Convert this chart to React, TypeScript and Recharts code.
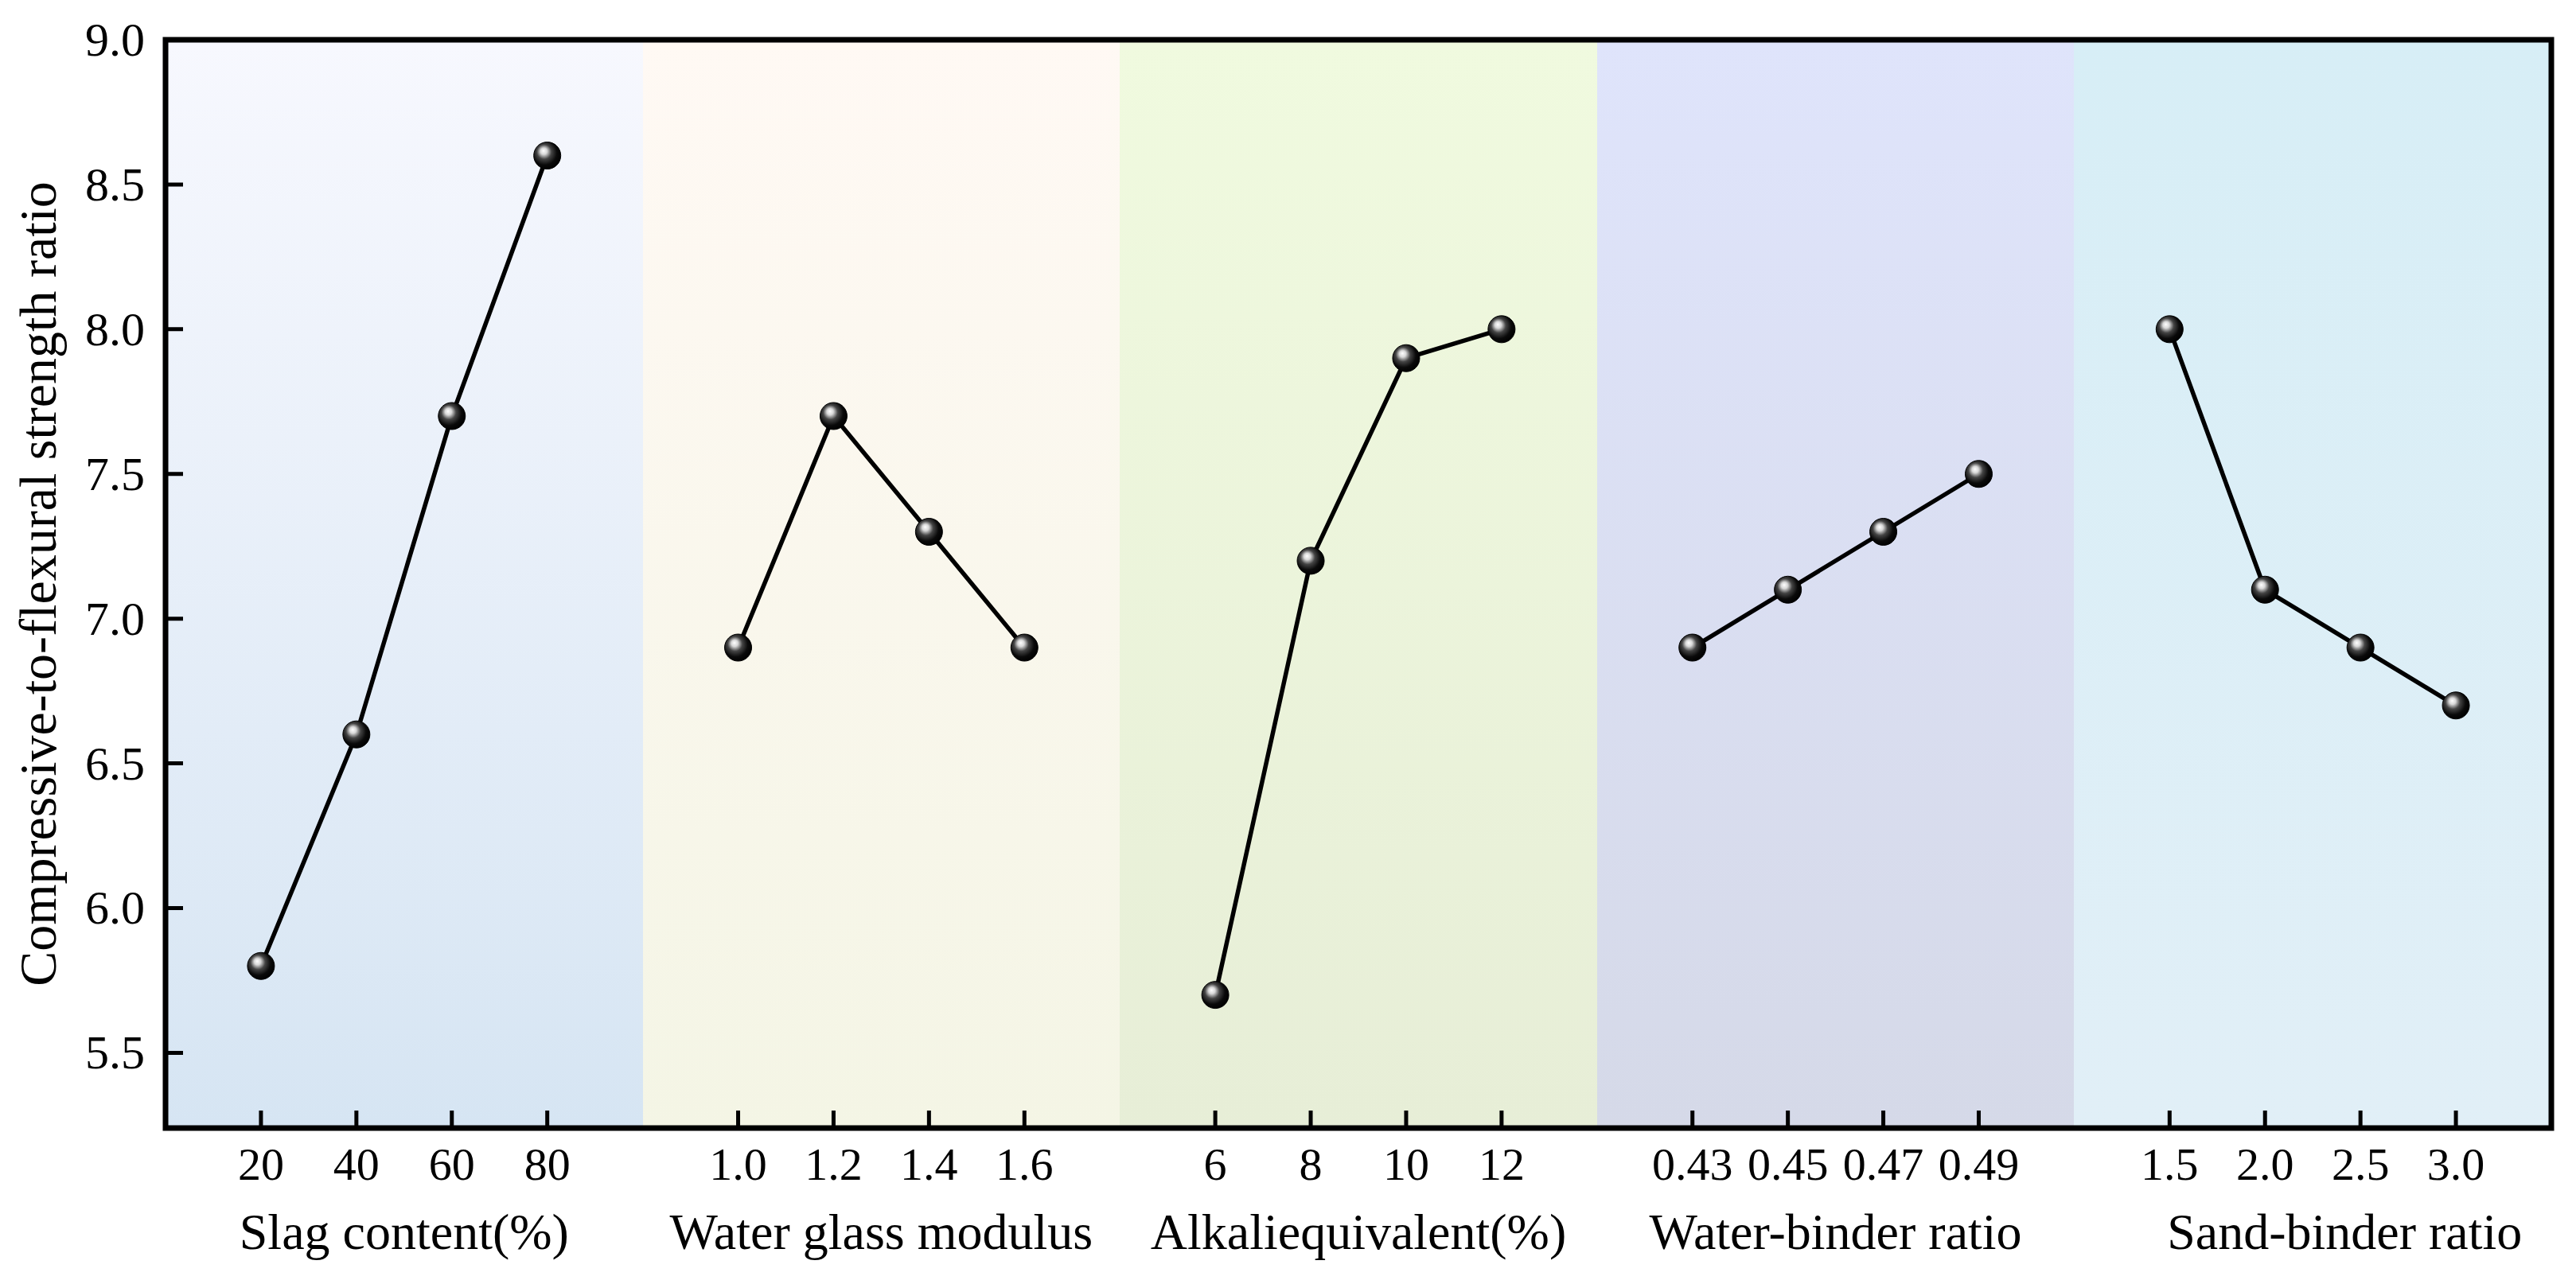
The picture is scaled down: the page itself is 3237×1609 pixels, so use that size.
import React from "react";
import { LineChart, Line, XAxis, YAxis, ReferenceArea, CartesianGrid } from "recharts";

const factorNames = [
  "Slag content(%)",
  "Water glass modulus",
  "Alkaliequivalent(%)",
  "Water-binder ratio",
  "Sand-binder ratio",
];

const slagLevels = ["20", "40", "60", "80"];
const modulusLevels = ["1.0", "1.2", "1.4", "1.6"];
const alkaliLevels = ["6", "8", "10", "12"];
const waterBinderLevels = ["0.43", "0.45", "0.47", "0.49"];
const sandBinderLevels = ["1.5", "2.0", "2.5", "3.0"];

const slagValues = [5.8, 6.6, 7.7, 8.6];
const modulusValues = [6.9, 7.7, 7.3, 6.9];
const alkaliValues = [5.7, 7.2, 7.9, 8.0];
const waterBinderValues = [6.9, 7.1, 7.3, 7.5];
const sandBinderValues = [8.0, 7.1, 6.9, 6.7];

const yTicks = [5.5, 6.0, 6.5, 7.0, 7.5, 8.0, 8.5, 9.0];

// top / bottom colour of each panel background
const panelColors = [
  ["#f7f8fe", "#d6e5f3"],
  ["#fff9f4", "#f4f5e5"],
  ["#f0fadf", "#e7eed7"],
  ["#dfe4fb", "#d5d9e8"],
  ["#d7eef6", "#e1eff7"],
];

const FONT = "'Liberation Serif', 'Times New Roman', serif";
const SLOT = 5; // each factor gets 5 x-units, levels sit at 1..4
const X_MAX = SLOT * 5;
const Y_MIN = 5.24;
const Y_MAX = 9;
const TICK_LEN = 22;

const levelSets = [slagLevels, modulusLevels, alkaliLevels, waterBinderLevels, sandBinderLevels];
const valueSets = [slagValues, modulusValues, alkaliValues, waterBinderValues, sandBinderValues];

const seriesData = valueSets.map((vals, p) =>
  vals.map((v, i) => ({ x: p * SLOT + i + 1, y: v }))
);

const xTicks: number[] = [];
const xLabels: Record<number, string> = {};
levelSets.forEach((levels, p) =>
  levels.forEach((l, i) => {
    const pos = p * SLOT + i + 1;
    xTicks.push(pos);
    xLabels[pos] = l;
  })
);

const panelBounds = factorNames.map((_, p) => p * SLOT);

const LevelTick = (props: any) => {
  const { x, y, payload } = props;
  return (
    <text x={x} y={y + 65} textAnchor="middle" fontFamily={FONT} fontSize={58} fill="#000">
      {xLabels[payload.value]}
    </text>
  );
};

const YTick = (props: any) => {
  const { x, y, payload } = props;
  return (
    <text x={x - 26} y={y + 20} textAnchor="end" fontFamily={FONT} fontSize={60} fill="#000">
      {Number(payload.value).toFixed(1)}
    </text>
  );
};

// box round the plot, with the inward tick marks drawn on top of everything
const Frame = (props: any) => {
  const { x, y, width, height } = props;
  if (x == null || width == null) return null;
  const bottom = y + height;
  const xMarks = xTicks
    .map((t) => {
      const px = x + (width * t) / X_MAX;
      return `M${px},${bottom}V${bottom - TICK_LEN}`;
    })
    .join("");
  const yMarks = yTicks
    .map((t) => {
      const py = y + (height * (Y_MAX - t)) / (Y_MAX - Y_MIN);
      return `M${x},${py}H${x + TICK_LEN}`;
    })
    .join("");
  return (
    <g>
      <path d={xMarks + yMarks} stroke="#000" strokeWidth={5} fill="none" />
      <rect x={x} y={y} width={width} height={height} fill="none" stroke="#000" strokeWidth={7} />
    </g>
  );
};

const PanelTitle = (props: any) => {
  const { viewBox, text, shift = 0 } = props;
  if (!viewBox) return null;
  const { x, y, width, height } = viewBox;
  return (
    <text
      x={x + width / 2 + shift}
      y={y + height + 152}
      textAnchor="middle"
      fontFamily={FONT}
      fontSize={64}
      fill="#000"
    >
      {text}
    </text>
  );
};

const Ball = (props: any) => {
  const { cx, cy, index } = props;
  if (cx == null || cy == null) return null;
  return <circle key={index} cx={cx} cy={cy} r={17} fill="url(#ball)" stroke="#000" strokeWidth={1} />;
};

const panelLines = (args: any) => {
  const { offset } = args;
  return panelBounds.map((b) => offset.left + (offset.width * b) / X_MAX);
};

const App = () => {
  return (
    <div style={{ width: 3237, height: 1609 }}>
      <style>{"body{margin:0}"}</style>
      <LineChart width={3237} height={1609} margin={{ top: 50, right: 31, left: 8, bottom: 91 }}>
        <defs>
          {panelColors.map(([top, bottom], i) => (
            <linearGradient key={i} id={`panel${i}`} x1="0" y1="0" x2="0" y2="1">
              <stop offset="0%" stopColor={top} />
              <stop offset="100%" stopColor={bottom} />
            </linearGradient>
          ))}
          <radialGradient id="ball" cx="0.42" cy="0.42" r="0.6" fx="0.36" fy="0.32">
            <stop offset="0%" stopColor="#ffffff" />
            <stop offset="20%" stopColor="#d8d8d8" />
            <stop offset="45%" stopColor="#444444" />
            <stop offset="75%" stopColor="#0a0a0a" />
            <stop offset="100%" stopColor="#000000" />
          </radialGradient>
        </defs>
        <CartesianGrid
          horizontal={false}
          vertical
          stroke="none"
          strokeOpacity={0}
          verticalFill={panelColors.map((_, i) => `url(#panel${i})`)}
          fillOpacity={1}
          verticalCoordinatesGenerator={panelLines}
        />
        <XAxis
          dataKey="x"
          type="number"
          domain={[0, X_MAX]}
          ticks={xTicks}
          interval={0}
          allowDataOverflow
          axisLine={false}
          tickLine={false}
          tickSize={0}
          tickMargin={0}
          height={100}
          tick={<LevelTick />}
        />
        <YAxis
          type="number"
          domain={[Y_MIN, Y_MAX]}
          ticks={yTicks}
          interval={0}
          allowDataOverflow
          axisLine={false}
          tickLine={false}
          tickSize={0}
          tickMargin={0}
          width={200}
          tick={<YTick />}
        />
        {factorNames.map((name, i) => (
          <ReferenceArea
            key={name}
            x1={i * SLOT}
            x2={(i + 1) * SLOT}
            y1={Y_MIN}
            y2={Y_MAX}
            fill="none"
            stroke="none"
            label={<PanelTitle text={name} shift={i === 4 ? 40 : 0} />}
          />
        ))}
        {seriesData.map((d, i) => (
          <Line
            key={i}
            data={d}
            dataKey="y"
            type="linear"
            stroke="#000"
            strokeWidth={5.5}
            dot={Ball}
            activeDot={false}
            isAnimationActive={false}
          />
        ))}
        <ReferenceArea
          x1={0}
          x2={X_MAX}
          y1={Y_MIN}
          y2={Y_MAX}
          ifOverflow="visible"
          shape={(p: any) => <Frame {...p} />}
        />
        <text
          x={70}
          y={734}
          transform="rotate(-90 70 734)"
          textAnchor="middle"
          fontFamily={FONT}
          fontSize={66}
          fill="#000"
        >
          Compressive-to-flexural strength ratio
        </text>
      </LineChart>
    </div>
  );
};

export default App;
